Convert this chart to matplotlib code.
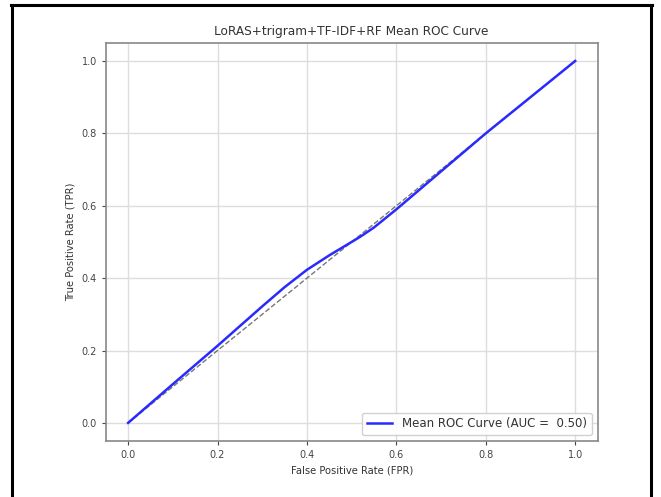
import matplotlib
matplotlib.use('Agg')
import matplotlib.pyplot as plt
from matplotlib.lines import Line2D

# mean ROC curve values
mean_fpr = [0.0, 0.1, 0.2, 0.3, 0.35, 0.4, 0.45, 0.5, 0.52, 0.55, 0.6, 0.7, 0.8, 0.9, 1.0]
mean_tpr = [0.0, 0.107, 0.213, 0.322, 0.375, 0.423, 0.463, 0.50, 0.515, 0.54, 0.59, 0.695, 0.80, 0.90, 1.0]
mean_auc = 0.50
ticks = [0.0, 0.2, 0.4, 0.6, 0.8, 1.0]

fig = plt.figure(figsize=(6.61, 4.97), dpi=100)
ax = fig.add_axes([0.160, 0.1127, 0.744, 0.801])

ax.plot([0, 1], [0, 1], linestyle='--', color='#555555', lw=1.0, alpha=0.8)
ax.plot(mean_fpr, mean_tpr, color='#2a2aff', lw=1.8,
        label='Mean ROC Curve (AUC =  %0.2f)' % mean_auc)

ax.set_xticks(ticks)
ax.set_yticks(ticks)
ax.tick_params(labelsize=7, colors='#444444', length=3)
ax.set_xlabel('False Positive Rate (FPR)', fontsize=7.2, color='#333333')
ax.set_ylabel('True Positive Rate (TPR)', fontsize=7.2, color='#333333')
ax.set_title('LoRAS+trigram+TF-IDF+RF Mean ROC Curve', fontsize=8.7, color='#333333')
ax.grid(True, color='#dddddd', lw=1.0)
for s in ax.spines.values():
    s.set_color('#888888')
    s.set_linewidth(1.2)

leg = ax.legend(loc='lower right', fontsize=8.5, framealpha=0.9, handlelength=2.2)
for t in leg.get_texts():
    t.set_color('#333333')

# black frame around the figure
W, H = 661, 497
fx = lambda px: px / W
fy = lambda py: 1 - py / H
frame = dict(color='black', lw=2.2, transform=fig.transFigure)
fig.add_artist(Line2D([fx(11.5), fx(11.5)], [fy(5), fy(510)], **frame))
fig.add_artist(Line2D([fx(651), fx(651)], [fy(5), fy(510)], **frame))
fig.add_artist(Line2D([fx(10.5), fx(652)], [fy(5), fy(5)], **frame))

fig.savefig('out.png', dpi=100)
